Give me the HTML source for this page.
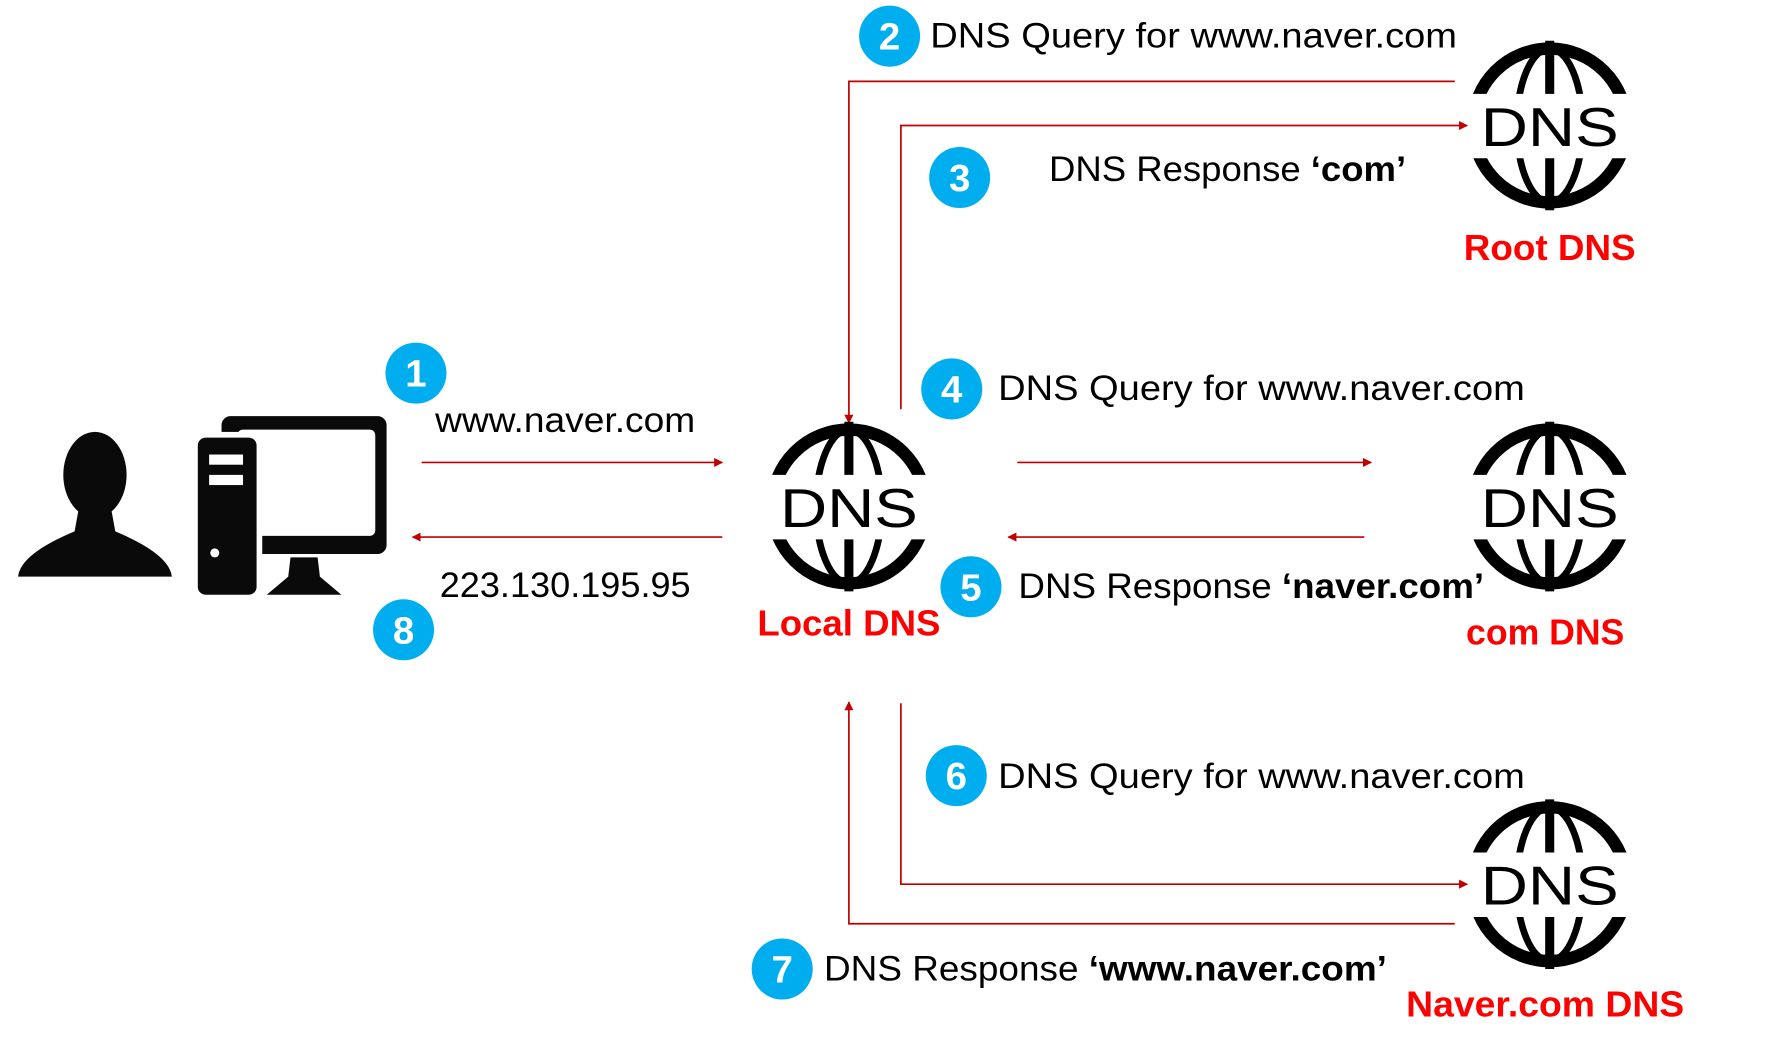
<!DOCTYPE html>
<html><head><meta charset="utf-8"><style>
html,body{margin:0;padding:0;background:#fff;}
svg{display:block;}
text{font-family:"Liberation Sans","Noto Sans CJK KR",sans-serif;}
</style></head><body>
<svg width="1769" height="1047" viewBox="0 0 1565 926" preserveAspectRatio="none" xmlns="http://www.w3.org/2000/svg">
<defs>
<marker id="ah" viewBox="0 0 10 10" refX="9" refY="5" markerWidth="8" markerHeight="8" markerUnits="userSpaceOnUse" orient="auto"><path d="M0,0 L10,5 L0,10 z" fill="#C00000"/></marker>
<clipPath id="gc"><rect x="-80" y="-80" width="160" height="52"/><rect x="-80" y="29" width="160" height="52"/></clipPath>
<g id="globe">
<g clip-path="url(#gc)" fill="none" stroke="#000">
<circle r="68" stroke-width="11"/>
<ellipse rx="29" ry="68" stroke-width="6"/>
<line x1="0" y1="-75" x2="0" y2="75" stroke-width="8"/>
</g>
<text x="0" y="18" text-anchor="middle" font-size="48" textLength="122" lengthAdjust="spacingAndGlyphs" fill="#000">DNS</text>
</g>
<g id="c"><circle r="27" fill="#00AEEF"/></g>
</defs>

<ellipse cx="84" cy="420" rx="28" ry="38" fill="#0a0a0a"/>
<path d="M70,448 L98,448 L102,470 Q150,490 152,510 L16,510 Q18,490 66,470 Z" fill="#0a0a0a"/>
<rect x="196" y="368" width="146" height="122" rx="8" fill="#0a0a0a"/>
<rect x="210" y="380" width="122" height="94" rx="5" fill="#fff"/>
<rect x="170" y="382" width="62" height="150" fill="#fff"/>
<rect x="175" y="387" width="52" height="139" rx="7" fill="#0a0a0a"/>
<rect x="185" y="402" width="30" height="9" fill="#fff"/>
<rect x="185" y="420" width="30" height="9" fill="#fff"/>
<circle cx="190" cy="489" r="4" fill="#fff"/>
<path d="M257,493 L281,493 L283,510 L302,526 L236,526 L255,510 Z" fill="#0a0a0a"/>

<g stroke="#C00000" stroke-width="1.5" fill="none">
<line x1="373" y1="409" x2="639" y2="409" marker-end="url(#ah)"/>
<line x1="639" y1="475" x2="365" y2="475" marker-end="url(#ah)"/>
<polyline points="1287,72 751,72 751,374" marker-end="url(#ah)"/>
<polyline points="797,362 797,111 1298,111" marker-end="url(#ah)"/>
<line x1="900" y1="409" x2="1213" y2="409" marker-end="url(#ah)"/>
<line x1="1207" y1="475" x2="892" y2="475" marker-end="url(#ah)"/>
<polyline points="797,622 797,782 1298,782" marker-end="url(#ah)"/>
<polyline points="1287,817 751,817 751,621" marker-end="url(#ah)"/>
</g>

<use href="#globe" x="751" y="448"/>
<use href="#globe" x="1371" y="111"/>
<use href="#globe" x="1371" y="448"/>
<use href="#globe" x="1371" y="782"/>

<g fill="#FF0000" font-weight="bold" font-size="32" text-anchor="middle">
<text x="751" y="562" textLength="162" lengthAdjust="spacingAndGlyphs">Local DNS</text>
<text x="1371" y="230" textLength="152" lengthAdjust="spacingAndGlyphs">Root DNS</text>
<text x="1367" y="570" textLength="140" lengthAdjust="spacingAndGlyphs">com DNS</text>
<text x="1367" y="899" textLength="246" lengthAdjust="spacingAndGlyphs">Naver.com DNS</text>
</g>

<use href="#c" x="368" y="330"/><use href="#c" x="787" y="32"/><use href="#c" x="849" y="157"/><use href="#c" x="842" y="344"/>
<use href="#c" x="859" y="519"/><use href="#c" x="846" y="686"/><use href="#c" x="692" y="857"/><use href="#c" x="357" y="557"/>
<g fill="#fff" font-weight="bold" font-size="34" text-anchor="middle">
<text x="368" y="342">1</text><text x="787" y="44">2</text><text x="849" y="169">3</text><text x="842" y="356">4</text>
<text x="859" y="531">5</text><text x="846" y="698">6</text><text x="692" y="869">7</text><text x="357" y="569">8</text>
</g>

<g fill="#000" font-size="31">
<text x="385" y="382" textLength="230" lengthAdjust="spacingAndGlyphs">www.naver.com</text>
<text x="389" y="528" textLength="222" lengthAdjust="spacingAndGlyphs">223.130.195.95</text>
<text x="823" y="42" textLength="466" lengthAdjust="spacingAndGlyphs">DNS Query for www.naver.com</text>
<text x="928" y="160" textLength="316" lengthAdjust="spacingAndGlyphs">DNS Response <tspan font-weight="bold">‘com’</tspan></text>
<text x="883" y="354" textLength="466" lengthAdjust="spacingAndGlyphs">DNS Query for www.naver.com</text>
<text x="901" y="529" textLength="412" lengthAdjust="spacingAndGlyphs">DNS Response <tspan font-weight="bold">‘naver.com’</tspan></text>
<text x="883" y="697" textLength="466" lengthAdjust="spacingAndGlyphs">DNS Query for www.naver.com</text>
<text x="729" y="867" textLength="498" lengthAdjust="spacingAndGlyphs">DNS Response <tspan font-weight="bold">‘www.naver.com’</tspan></text>
</g>
</svg>
</body></html>
